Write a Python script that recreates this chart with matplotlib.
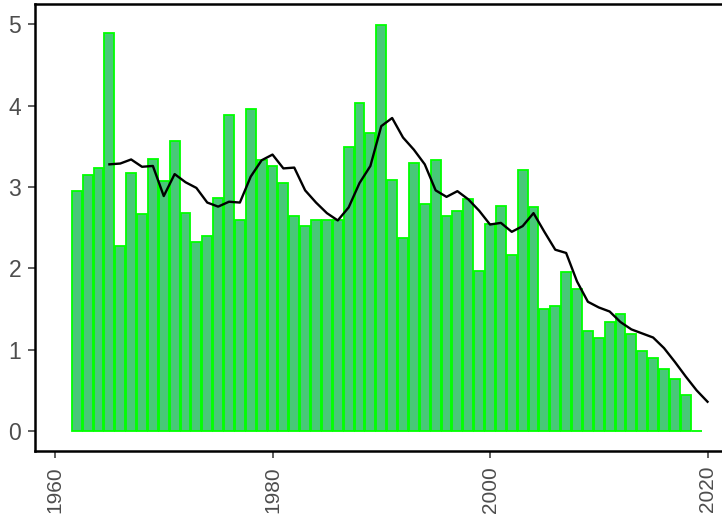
import numpy as np
import matplotlib.pyplot as plt

# yearly values (bars)
years = list(range(1962, 2020))
values = [2.95, 3.15, 3.23, 4.90, 2.28, 3.17, 2.67, 3.34, 3.08, 3.57,
          2.68, 2.32, 2.40, 2.87, 3.89, 2.60, 3.96, 3.33, 3.26, 3.05,
          2.65, 2.52, 2.60, 2.59, 2.59, 3.49, 4.03, 3.67, 4.99, 3.09,
          2.38, 3.30, 2.79, 3.33, 2.65, 2.71, 2.85, 1.97, 2.55, 2.77,
          2.16, 3.21, 2.76, 1.50, 1.54, 1.95, 1.75, 1.23, 1.15, 1.34,
          1.44, 1.19, 0.98, 0.90, 0.76, 0.64, 0.44, 0.0]

# smoothed line
line_years = list(range(1965, 2021))
line_values = [3.28, 3.29, 3.34, 3.25, 3.26, 2.89, 3.16, 3.06, 2.99, 2.81,
               2.76, 2.82, 2.81, 3.13, 3.33, 3.40, 3.23, 3.24, 2.96, 2.81,
               2.68, 2.59, 2.75, 3.05, 3.26, 3.75, 3.85, 3.61, 3.46, 3.28,
               2.96, 2.88, 2.95, 2.85, 2.71, 2.54, 2.56, 2.45, 2.52, 2.68,
               2.45, 2.23, 2.19, 1.84, 1.59, 1.52, 1.47, 1.34, 1.25, 1.20,
               1.15, 1.02, 0.85, 0.67, 0.50, 0.36]

plt.rcParams['font.family'] = ['Liberation Sans', 'DejaVu Sans']

fig = plt.figure(figsize=(7.22, 5.19), dpi=100)
ax = fig.add_axes([35 / 722, 1 - 450.7 / 519, 705 / 722, 446.7 / 519])

ax.bar(years, values, width=0.9, color='#48c878', edgecolor='#00ff00',
       linewidth=1.3, zorder=2)
ax.plot(line_years, line_values, color='black', linewidth=1.7, zorder=3)

ax.set_xlim(1958.16, 1958.16 + 705 / 10.875)
ax.set_ylim(-0.242, 5.252)
ax.set_xticks([1960, 1980, 2000, 2020])
ax.set_yticks([0, 1, 2, 3, 4, 5])
ax.tick_params(colors='#333333', labelcolor='#4d4d4d', length=5, width=1.1)
ax.tick_params(axis='x', labelrotation=90, labelsize=15, pad=6)
ax.tick_params(axis='y', labelsize=16.5, pad=5)

for side in ['left', 'bottom', 'top']:
    ax.spines[side].set_linewidth(1.8)
    ax.spines[side].set_color('black')
ax.spines['right'].set_visible(False)

fig.savefig('out.png', dpi=100)
